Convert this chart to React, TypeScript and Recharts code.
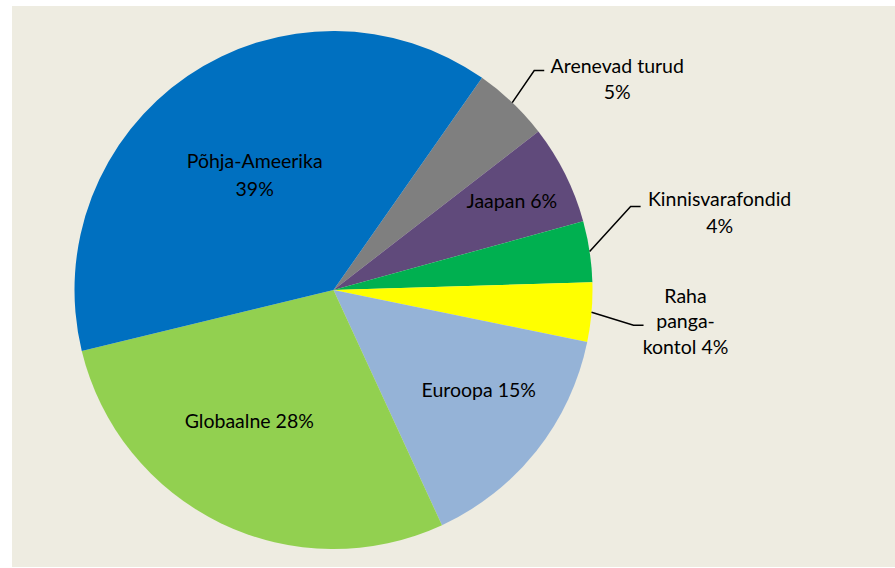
import React from 'react';
import { PieChart, Pie, Cell } from 'recharts';

const categories = ['Arenevad turud', 'Jaapan', 'Kinnisvarafondid', 'Raha pangakontol', 'Euroopa', 'Globaalne', 'Põhja-Ameerika'];
const shares = [4.8, 6.2, 3.8, 3.7, 14.9, 28.1, 38.5];
const labelTexts = [
  ['Arenevad turud', '5%'],
  ['Jaapan 6%'],
  ['Kinnisvarafondid', '4%'],
  ['Raha', 'panga-', 'kontol 4%'],
  ['Euroopa 15%'],
  ['Globaalne 28%'],
  ['Põhja-Ameerika', '39%'],
];
const colors = ['#7F7F7F', '#604A7B', '#00B050', '#FFFF00', '#95B3D7', '#92D050', '#0070C0'];

const data = categories.map((name, i) => ({ name, value: shares[i], lines: labelTexts[i] }));

const FONT = 'Lato, "Noto Sans", sans-serif';
const FS = 19.5;
const RAD = Math.PI / 180;

type Layout =
  | { kind: 'in'; r: number; dA: number; lh: number }
  | { kind: 'out'; ex: number; ey: number; tx: number; ty: number; lh: number };

const layouts: Layout[] = [
  { kind: 'out', ex: 22, ey: -32, tx: 73, ty: -5, lh: 26 },
  { kind: 'in', r: 0.77, dA: 0, lh: 26 },
  { kind: 'out', ex: 41, ey: -45, tx: 79, ty: -8, lh: 27 },
  { kind: 'out', ex: 42, ey: 13, tx: 42, ty: -30, lh: 25.5 },
  { kind: 'in', r: 0.68, dA: 4, lh: 26 },
  { kind: 'in', r: 0.6, dA: -7, lh: 26 },
  { kind: 'in', r: 0.54, dA: 0, lh: 28 },
];

const renderLabel = (props: any) => {
  const { cx, cy, midAngle, outerRadius, index } = props;
  const lay = layouts[index];
  const lines: string[] = data[index].lines;
  if (lay.kind === 'in') {
    const a = (midAngle + lay.dA) * RAD;
    const r = outerRadius * lay.r;
    const x = cx + r * Math.cos(-a);
    const y = cy + r * Math.sin(-a);
    const y0 = y - ((lines.length - 1) * lay.lh) / 2;
    return (
      <g key={`l${index}`}>
        {lines.map((t, k) => (
          <text key={k} x={x} y={y0 + k * lay.lh} textAnchor="middle" dominantBaseline="central" fontFamily={FONT} fontSize={FS} fill="#000">
            {t}
          </text>
        ))}
      </g>
    );
  }
  const a = midAngle * RAD;
  const sx = cx + outerRadius * Math.cos(-a);
  const sy = cy + outerRadius * Math.sin(-a);
  const mx = sx + lay.ex;
  const my = sy + lay.ey;
  const ex = mx + 10;
  const tx = ex + lay.tx;
  const ty = my + lay.ty;
  return (
    <g key={`l${index}`}>
      <polyline points={`${sx},${sy} ${mx},${my} ${ex},${my}`} fill="none" stroke="#000" strokeWidth={1.5} />
      {lines.map((t, k) => (
        <text key={k} x={tx} y={ty + k * lay.lh} textAnchor="middle" dominantBaseline="central" fontFamily={FONT} fontSize={FS} fill="#000">
          {t}
        </text>
      ))}
    </g>
  );
};

export default function App() {
  return (
    <div style={{ position: 'absolute', left: 0, top: 0, width: 895, height: 568, background: '#FFFFFF', overflow: 'hidden' }}>
      <div style={{ position: 'absolute', left: 12, top: 6, width: 883, height: 561, background: '#EEECE1' }} />
      <div style={{ position: 'absolute', left: 0, top: 0 }}>
        <PieChart width={895} height={568} margin={{ top: 0, right: 0, bottom: 0, left: 0 }}>
          <Pie
            data={data}
            dataKey="value"
            nameKey="name"
            cx={333.5}
            cy={290}
            outerRadius={259}
            innerRadius={0}
            startAngle={55}
            endAngle={-305}
            stroke="none"
            isAnimationActive={false}
            labelLine={false}
            label={renderLabel}
          >
            {data.map((d, i) => (
              <Cell key={d.name} fill={colors[i]} stroke="none" />
            ))}
          </Pie>
        </PieChart>
      </div>
    </div>
  );
}
